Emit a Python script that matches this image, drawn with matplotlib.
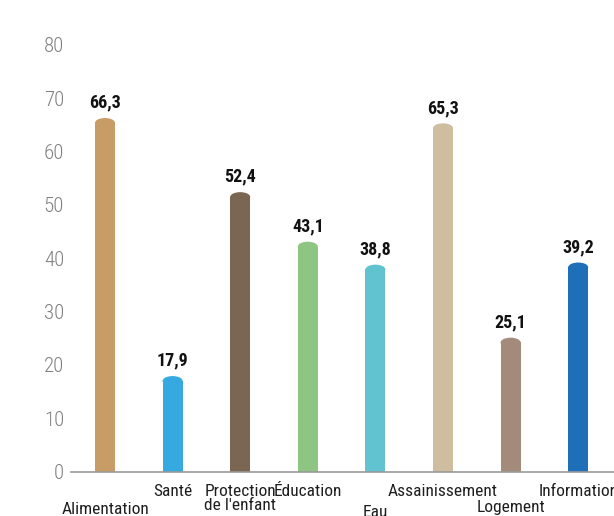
import matplotlib
matplotlib.use('Agg')
import matplotlib.pyplot as plt
from matplotlib.patches import Ellipse
from matplotlib import font_manager

categories = ['Alimentation', 'Santé', "Protection\nde l'enfant", 'Éducation',
              'Eau', 'Assainissement', 'Logement', 'Information']
values = [66.3, 17.9, 52.4, 43.1, 38.8, 65.3, 25.1, 39.2]
value_labels = ['66,3', '17,9', '52,4', '43,1', '38,8', '65,3', '25,1', '39,2']
colors = ['#C89C66', '#36A9E1', '#7A6652', '#8EC583', '#62C3D0', '#CEBD9F', '#A48A7A', '#1E6FB7']
# category labels sit on two rows; offset below the axis in data units
label_drop = [5.7, 2.3, 2.3, 2.3, 6.3, 2.3, 5.4, 2.3]

names = {f.name for f in font_manager.fontManager.ttflist}
narrow = next(n for n in ['Roboto Condensed', 'Archivo Narrow', 'PT Sans Narrow',
                          'Liberation Sans Narrow', 'Roboto'] if n in names)
plt.rcParams['font.family'] = [narrow, 'DejaVu Sans']

W, H = 614, 516
fig = plt.figure(figsize=(W / 100, H / 100), dpi=100)
ax = fig.add_axes([71 / W, (H - 471.5) / H, (W - 71) / W, (471.5 - 45) / H])

step = 67.6
x0 = 105
ax.set_xlim((71 - x0) / step, (W - x0) / step)
ax.set_ylim(0, 80)

bw = 20 / step
cap = 1.8  # height of the rounded top in data units
for i, (v, c) in enumerate(zip(values, colors)):
    ax.bar(i, v - cap / 2, width=bw, color=c, linewidth=0, zorder=2)
    ax.add_patch(Ellipse((i, v - cap / 2), bw, cap, color=c, linewidth=0, zorder=2))
    ax.annotate(value_labels[i], (i, v), xytext=(0, 4.5), textcoords='offset points',
                ha='center', va='bottom', fontsize=13, fontweight='bold', color='#111111')

ax.set_xticks([])
ax.set_yticks(range(0, 81, 10))
ax.tick_params(axis='y', length=0, pad=5, labelsize=15, labelcolor='#808080')
for lbl in ax.get_yticklabels():
    lbl.set_fontweight('light')
for s in ['top', 'right', 'left']:
    ax.spines[s].set_visible(False)
ax.spines['bottom'].set_color('#9a9a9a')
ax.spines['bottom'].set_linewidth(1.2)

for i, cat in enumerate(categories):
    ax.text(i, -label_drop[i], cat, ha='center', va='top', fontsize=12.5, color='#1e1e1e',
            linespacing=0.95, clip_on=False)

fig.savefig('out.png', dpi=100)
